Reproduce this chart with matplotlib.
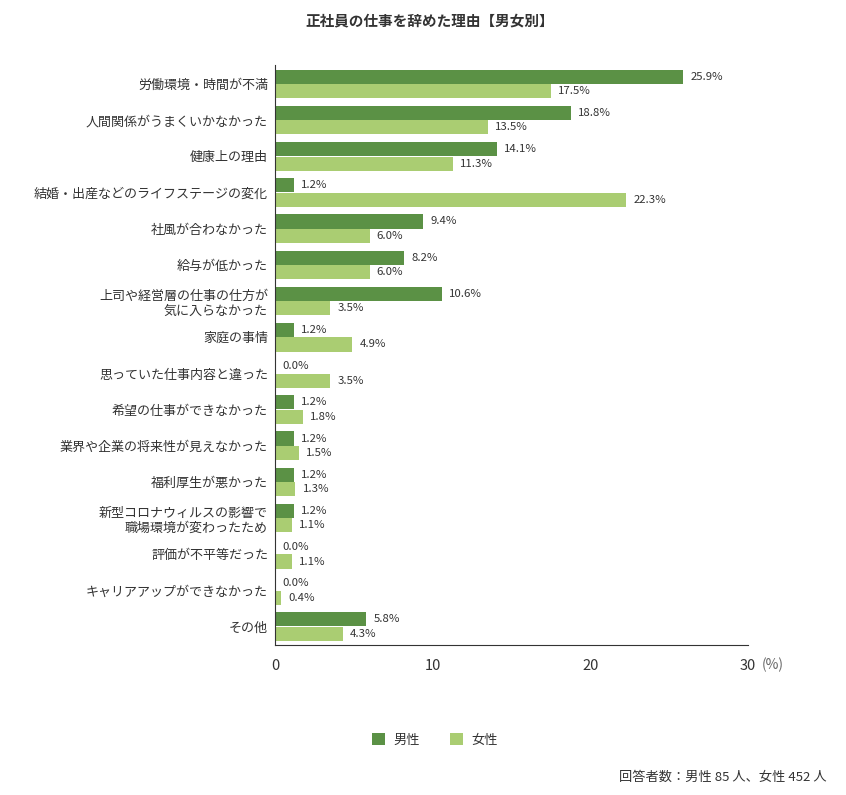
import matplotlib
matplotlib.use("Agg")
import matplotlib.pyplot as plt
import numpy as np

plt.rcParams['font.family'] = ['Noto Sans CJK JP', 'DejaVu Sans']

categories = [
    "労働環境・時間が不満",
    "人間関係がうまくいかなかった",
    "健康上の理由",
    "結婚・出産などのライフステージの変化",
    "社風が合わなかった",
    "給与が低かった",
    "上司や経営層の仕事の仕方が\n気に入らなかった",
    "家庭の事情",
    "思っていた仕事内容と違った",
    "希望の仕事ができなかった",
    "業界や企業の将来性が見えなかった",
    "福利厚生が悪かった",
    "新型コロナウィルスの影響で\n職場環境が変わったため",
    "評価が不平等だった",
    "キャリアアップができなかった",
    "その他",
]
male = [25.9, 18.8, 14.1, 1.2, 9.4, 8.2, 10.6, 1.2, 0.0, 1.2, 1.2, 1.2, 1.2, 0.0, 0.0, 5.8]
female = [17.5, 13.5, 11.3, 22.3, 6.0, 6.0, 3.5, 4.9, 3.5, 1.8, 1.5, 1.3, 1.1, 1.1, 0.4, 4.3]
series_names = ["男性", "女性"]
xticks = [0, 10, 20, 30]

c_male = "#5b9145"
c_female = "#aacd72"
text_c = "#333333"

fig = plt.figure(figsize=(8.46, 7.95), dpi=100)
ax = fig.add_axes([0.325, 0.189, 0.559, 0.729])

y = np.arange(len(categories))
h = 0.39
bm = ax.barh(y - 0.2, male, height=h, color=c_male, label=series_names[0])
bf = ax.barh(y + 0.2, female, height=h, color=c_female, label=series_names[1])

for yy, v in zip(y - 0.2, male):
    ax.text(v + 0.45, yy, f"{v:.1f}%", va="center", ha="left", fontsize=8.2, color=text_c)
for yy, v in zip(y + 0.2, female):
    ax.text(v + 0.45, yy, f"{v:.1f}%", va="center", ha="left", fontsize=8.2, color=text_c)

ax.set_xlim(0, 30)
ax.set_ylim(15.5, -0.52)
ax.set_yticks(y)
ax.set_yticklabels(categories, fontsize=9.4, color=text_c, linespacing=1.25)
ax.set_xticks(xticks)
ax.set_xticklabels([str(t) for t in xticks], fontsize=10.5, color=text_c)
ax.tick_params(axis="both", length=0)
ax.tick_params(axis="y", pad=5)
ax.tick_params(axis="x", pad=10)
for s in ["top", "right"]:
    ax.spines[s].set_visible(False)
ax.spines["left"].set_color("#333333")
ax.spines["bottom"].set_color("#333333")
ax.spines["left"].set_linewidth(0.8)
ax.spines["bottom"].set_linewidth(0.8)

fig.text(0.913, 0.164, "(%)", ha="center", va="center", fontsize=10, color="#666666")

fig.text(0.508, 0.974, "正社員の仕事を辞めた理由【男女別】", ha="center", va="center",
         fontsize=10.5, fontweight="bold", color=text_c)

fig.legend(handles=[bm, bf], labels=series_names, loc="center",
           bbox_to_anchor=(0.514, 0.069), ncol=2, frameon=False,
           fontsize=9.5, handlelength=1.0, handleheight=1.0, columnspacing=2.3,
           handletextpad=0.6, labelcolor=text_c)

fig.text(0.977, 0.022, "回答者数：男性 85 人、女性 452 人", ha="right", va="center",
         fontsize=9.5, color=text_c)

fig.savefig("out.png", dpi=100, facecolor="white")
